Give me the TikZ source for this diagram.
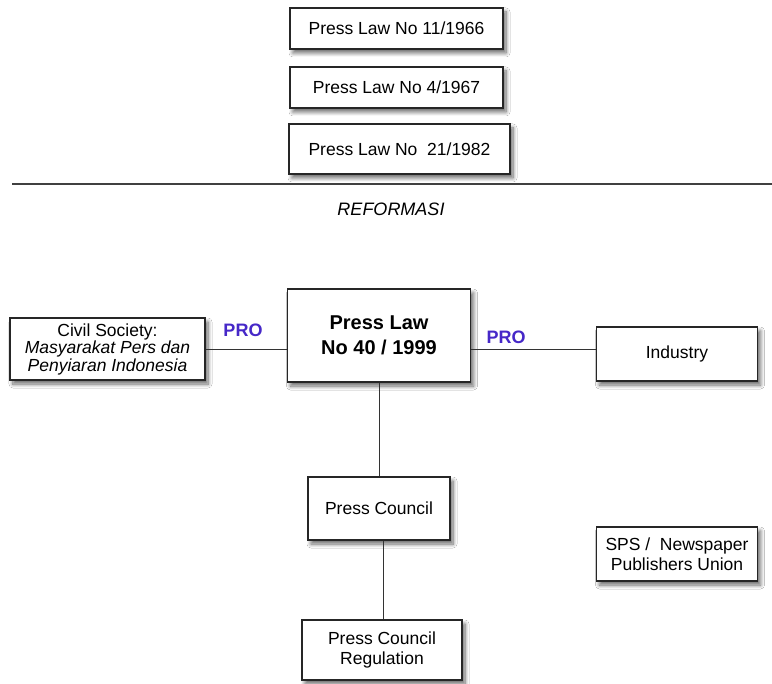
\documentclass[tikz,border=0pt]{standalone}
\usepackage{fontspec}
\setmainfont{Liberation Sans}
\usetikzlibrary{shadows.blur}
\definecolor{problue}{RGB}{70,40,200}
\tikzset{
  box/.style={draw=black!85, line width=1.2pt, fill=white, align=center, inner sep=2pt,
    blur shadow={shadow xshift=3pt, shadow yshift=-4pt, shadow blur steps=8, shadow blur radius=4pt, shadow opacity=60},
    font=\fontsize{17.5}{20.5}\selectfont},
  conn/.style={draw=black!80, line width=1pt},
  prolabel/.style={text=problue, font=\bfseries\fontsize{18}{20}\selectfont},
}
\begin{document}
\begin{tikzpicture}[x=1pt,y=-1pt]
\useasboundingbox[fill=white] (0,0) rectangle (772,684);
\node[box, minimum width=213pt, minimum height=41pt] (l1) at (396.5,28.5) {Press Law No 11/1966};
\node[box, minimum width=213pt, minimum height=41pt] (l2) at (396.5,87.5) {Press Law No 4/1967};
\node[box, minimum width=221pt, minimum height=50pt] (l3) at (399.5,149) {Press Law No\ \ 21/1982};
\coordinate (hl) at (12,184);
\coordinate (hr) at (772,184);
\draw[line width=1.3pt, draw=black!75] (hl) -- (hr);
\node[font=\itshape\fontsize{18}{20}\selectfont] (ref) at (391,209) {REFORMASI};
\node[box, minimum width=195pt, minimum height=62pt, font=\fontsize{17.5}{17.5}\selectfont] (civil) at (107.5,349)
  {Civil Society:\\ \textit{Masyarakat Pers dan}\\ \textit{Penyiaran Indonesia}};
\node[box, minimum width=183pt, minimum height=93pt, font=\bfseries\fontsize{20}{25.5}\selectfont] (main) at (379,335.5)
  {Press Law\\ No 40 / 1999};
\node[box, minimum width=161pt, minimum height=54pt] (ind) at (677,354) {Industry};
\node[box, minimum width=142pt, minimum height=63pt] (pc) at (379,508.5) {Press Council};
\node[box, minimum width=160pt, minimum height=60pt] (pcr) at (382,650) {Press Council\\ Regulation};
\node[box, minimum width=161pt, minimum height=54pt] (sps) at (677,554) {SPS /\ \ Newspaper\\ Publishers Union};
\node[prolabel] (pro1) at (243,330) {PRO};
\node[prolabel] (pro2) at (506,337) {PRO};
\draw[conn] (civil.east |- 0,350) -- (main.west |- 0,350);
\draw[conn] (main.east |- 0,350) -- (ind.west |- 0,350);
\draw[conn] (main.south) -- (pc.north);
\draw[conn] (pc.south -| 383,0) -- (pcr.north -| 383,0);
\end{tikzpicture}
\end{document}
